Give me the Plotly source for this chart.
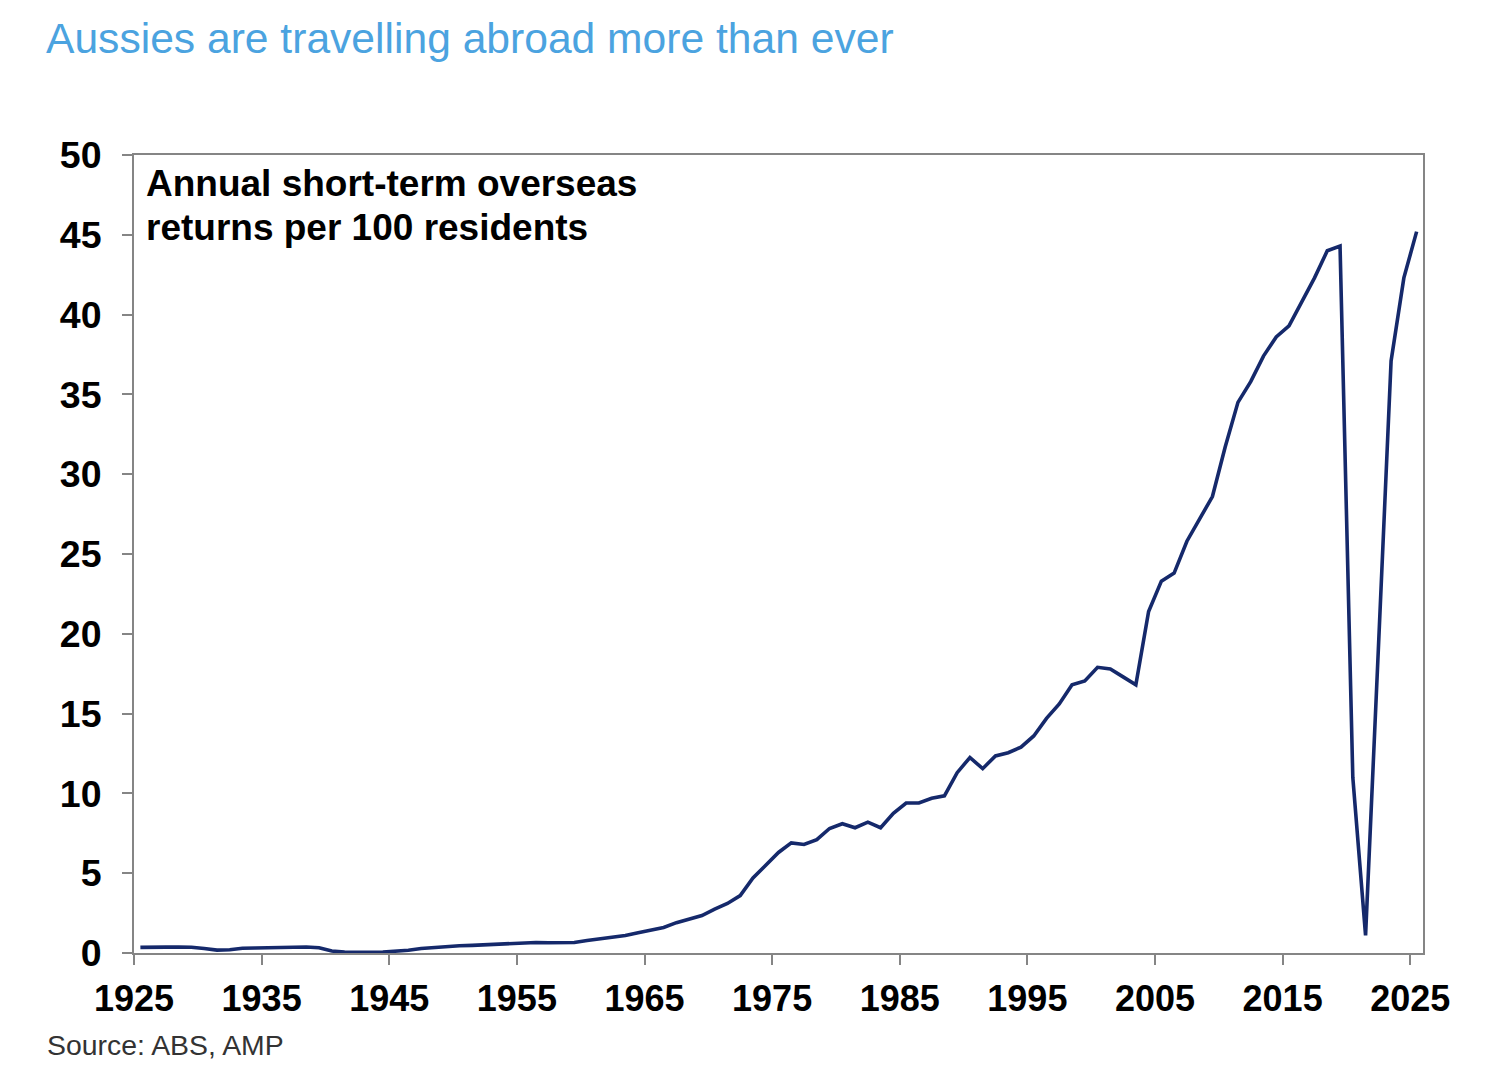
import numpy as np
import plotly.graph_objects as go

# ---- data -------------------------------------------------------------
years = list(range(1925, 2026))
returns_per_100 = [
    0.35, 0.38, 0.37, 0.38, 0.36, 0.28, 0.18, 0.20, 0.30, 0.31,   # 1925-1934
    0.32, 0.34, 0.38, 0.38, 0.33, 0.12, 0.06, 0.04, 0.04, 0.06,   # 1935-1944
    0.10, 0.17, 0.28, 0.35, 0.40, 0.45, 0.48, 0.52, 0.55, 0.58,   # 1945-1954
    0.62, 0.66, 0.64, 0.64, 0.66, 0.78, 0.88, 0.98, 1.10, 1.27,   # 1955-1964
    1.45, 1.60, 1.90, 2.10, 2.35, 2.75, 3.10, 3.60, 4.70, 5.50,   # 1965-1974
    6.30, 6.90, 6.80, 7.10, 7.80, 8.10, 7.85, 8.20, 7.85, 8.75,   # 1975-1984
    9.40, 9.40, 9.70, 9.85, 11.30, 12.25, 11.55, 12.35, 12.55, 12.90,  # 1985-1994
    13.60, 14.70, 15.60, 16.80, 17.05, 17.90, 17.80, 17.30, 16.80, 21.40,  # 1995-2004
    23.30, 23.80, 25.80, 27.20, 28.60, 31.70, 34.50, 35.80, 37.40, 38.60,  # 2005-2014
    39.30, 40.80, 42.30, 44.00, 44.30, 11.00, 1.10, 19.00, 37.10, 42.30,   # 2015-2024
    45.20,                                                                 # 2025
]
x_ticks = [1925, 1935, 1945, 1955, 1965, 1975, 1985, 1995, 2005, 2015, 2025]
y_ticks = [0, 5, 10, 15, 20, 25, 30, 35, 40, 45, 50]

title_text = "Aussies are travelling abroad more than ever"
box_line1 = "Annual short-term overseas"
box_line2 = "returns per 100 residents"
source_text = "Source: ABS, AMP"

# Excel-style category axis: each year's point sits mid-way between ticks
x_pos = np.array(years, dtype=float) + 0.5

W, H = 1508, 1086
L, R, T, B = 134, 85, 155, 133

axis_grey = "#858585"
line_col = "#15296b"
font_main = "Liberation Sans, Arial, sans-serif"

fig = go.Figure()
fig.add_trace(go.Scatter(
    x=x_pos, y=returns_per_100, mode="lines",
    line=dict(color=line_col, width=3.6),
    hoverinfo="skip", showlegend=False,
))

fig.update_layout(
    width=W, height=H,
    margin=dict(l=L, r=R, t=T, b=B, autoexpand=False),
    paper_bgcolor="white", plot_bgcolor="white",
    title=dict(
        text=title_text, xref="container", yref="container",
        x=46 / W, xanchor="left", y=1 - 38 / H, yanchor="middle",
        font=dict(family=font_main, size=42.6, color="#4ba3e0"),
    ),
    xaxis=dict(
        range=[1925, 2026], tickvals=x_ticks, ticktext=[str(v) for v in x_ticks],
        showgrid=False, zeroline=False,
        showline=True, linecolor=axis_grey, linewidth=2, mirror=True,
        ticks="outside", ticklen=10, tickwidth=2, tickcolor=axis_grey,
        ticklabelstandoff=3,
        tickfont=dict(family=font_main, size=36, color="black", weight="bold"),
    ),
    yaxis=dict(
        range=[0, 50], tickvals=y_ticks,
        showgrid=False, zeroline=False,
        showline=True, linecolor=axis_grey, linewidth=2, mirror=True,
        ticks="outside", ticklen=10, tickwidth=2, tickcolor=axis_grey,
        ticklabelstandoff=13,
        tickfont=dict(family=font_main, size=37.5, color="black", weight="bold"),
    ),
    annotations=[
        dict(text=box_line1, xref="paper", yref="paper",
             x=(144 - L) / (W - L - R), y=(953 - 184) / 798,
             xanchor="left", yanchor="middle", showarrow=False,
             font=dict(family=font_main, size=37, color="black", weight="bold")),
        dict(text=box_line2, xref="paper", yref="paper",
             x=(144 - L) / (W - L - R), y=(953 - 227) / 798,
             xanchor="left", yanchor="middle", showarrow=False,
             font=dict(family=font_main, size=37, color="black", weight="bold")),
        dict(text=source_text, xref="paper", yref="paper",
             x=-(L - 45) / (W - L - R), y=-(1045 - 953) / 798,
             xanchor="left", yanchor="middle", showarrow=False,
             font=dict(family=font_main, size=28.4, color="#333333")),
    ],
)

fig.write_html("out.html")
